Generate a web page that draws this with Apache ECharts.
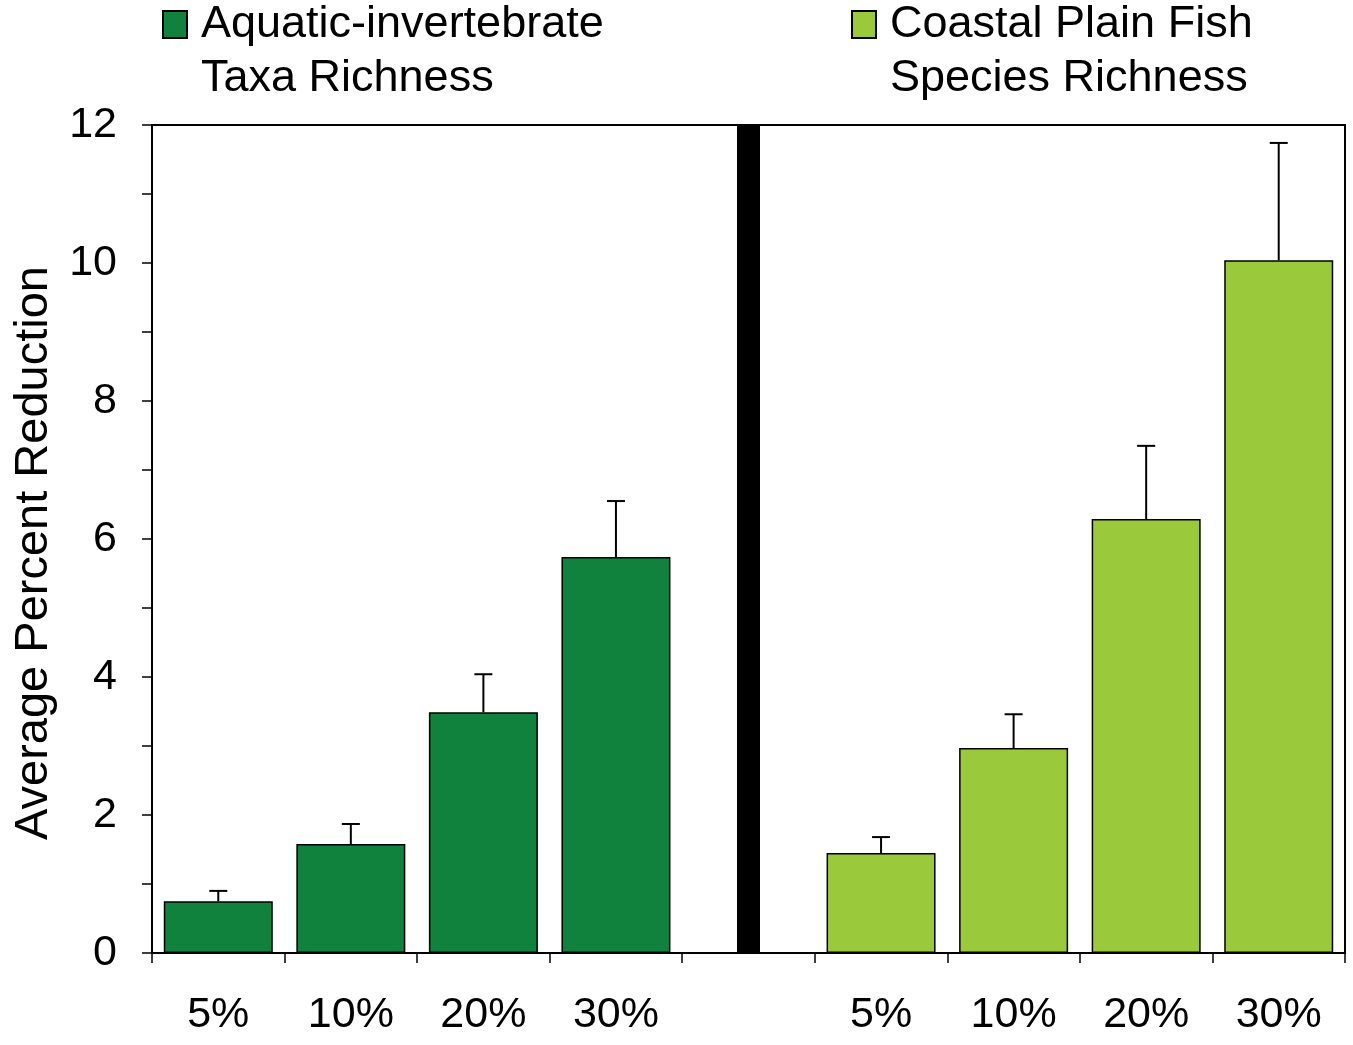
<!DOCTYPE html>
<html lang="en">
<head>
    <meta charset="UTF-8">
    <title>Average Percent Reduction</title>
    <script src="https://cdn.jsdelivr.net/npm/echarts@6/dist/echarts.min.js"></script>
    <style>
        html, body { margin: 0; padding: 0; background: #fff; }
        #chart { width: 1353px; height: 1045px; }
    </style>
</head>
<body>
<div id="chart"></div>
<script>
    // categories: left group, a blank slot for the divider, right group
    const categories = ['5%', '10%', '20%', '30%', '', '5%', '10%', '20%', '30%'];

    // aquatic-invertebrate taxa richness
    const invertMean = [0.75, 1.58, 3.49, 5.74];
    const invertUpper = [0.90, 1.87, 4.04, 6.55];

    // coastal plain fish species richness
    const fishMean = [1.45, 2.97, 6.29, 10.04];
    const fishUpper = [1.68, 3.46, 7.35, 11.74];

    // divider bar between the two panels
    const dividerSlot = 4;
    const dividerValue = 12;

    const invertName = 'Aquatic-invertebrate\nTaxa Richness';
    const fishName = 'Coastal Plain Fish\nSpecies Richness';
    const fishOffset = 5;

    const font = '"Liberation Sans", Arial, sans-serif';

    /*pad a group into the 9 category slots*/
    function pad(values, offset) {
        const out = categories.map(() => '-');
        values.forEach((v, i) => { out[i + offset] = v; });
        return out;
    }

    const errData = invertMean.map((m, i) => [i, m, invertUpper[i]])
        .concat(fishMean.map((m, i) => [i + fishOffset, m, fishUpper[i]]));

    /*upper error bar with a cap*/
    function renderErr(params, api) {
        const x = api.value(0);
        const base = api.coord([x, api.value(1)]);
        const top = api.coord([x, api.value(2)]);
        const st = { stroke: '#000', lineWidth: 2 };
        return {
            type: 'group',
            children: [
                { type: 'line', shape: { x1: top[0], y1: top[1], x2: base[0], y2: base[1] }, style: st },
                { type: 'line', shape: { x1: top[0] - 9, y1: top[1], x2: top[0] + 9, y2: top[1] }, style: st }
            ]
        };
    }

    /*thick black separator*/
    function renderDivider(params, api) {
        const x = api.value(0);
        const top = api.coord([x, api.value(1)]);
        const base = api.coord([x, 0]);
        return {
            type: 'rect',
            shape: { x: top[0] - 11.5, y: top[1], width: 23, height: base[1] - top[1] },
            style: { fill: '#000' }
        };
    }

    // icon path: square near top, padding to the right, height of two text lines
    const legendIcon = 'path://M0,0Z M0,13H24V40H0Z M33,108Z';
    const legendBase = {
        orient: 'vertical',
        top: -3,
        padding: 0,
        itemWidth: 33,
        itemHeight: 108,
        icon: legendIcon,
        textStyle: { fontFamily: font, fontSize: 45, lineHeight: 54, color: '#000' }
    };

    const chart = echarts.init(document.getElementById('chart'));
    chart.setOption({
        backgroundColor: '#fff',
        animation: false,
        legend: [
            Object.assign({}, legendBase, { data: [invertName], left: 162 }),
            Object.assign({}, legendBase, { data: [fishName], left: 851 })
        ],
        grid: {
            show: true,
            borderColor: '#000',
            borderWidth: 2,
            left: 152,
            right: 8,
            top: 125,
            bottom: 92
        },
        xAxis: {
            type: 'category',
            data: categories,
            boundaryGap: true,
            axisLine: { lineStyle: { color: '#000', width: 2 } },
            axisTick: { show: true, interval: 0, length: 10, lineStyle: { color: '#000', width: 1.5 } },
            axisLabel: { interval: 0, margin: 41, fontFamily: font, fontSize: 43, color: '#000' },
            splitLine: { show: false }
        },
        yAxis: {
            type: 'value',
            min: 0,
            max: 12,
            interval: 2,
            name: 'Average Percent Reduction',
            nameLocation: 'middle',
            nameGap: 94,
            nameTextStyle: { fontFamily: font, fontSize: 47, color: '#000', padding: [0, 28, 0, 0] },
            axisLine: { show: true, lineStyle: { color: '#000', width: 2 } },
            axisTick: { show: true, length: 10, lineStyle: { color: '#000', width: 1.5 } },
            minorTick: { show: true, splitNumber: 2, length: 10, lineStyle: { color: '#000', width: 1.5 } },
            axisLabel: { margin: 35, fontFamily: font, fontSize: 43, color: '#000' },
            splitLine: { show: false }
        },
        series: [
            {
                name: invertName,
                type: 'bar',
                data: pad(invertMean, 0),
                barWidth: 109,
                barGap: '-100%',
                itemStyle: { color: '#10823e', borderColor: '#000', borderWidth: 1.5 }
            },
            {
                name: fishName,
                type: 'bar',
                data: pad(fishMean, fishOffset),
                barWidth: 109,
                barGap: '-100%',
                itemStyle: { color: '#9bc93c', borderColor: '#000', borderWidth: 1.5 }
            },
            {
                type: 'custom',
                renderItem: renderErr,
                data: errData,
                z: 5
            },
            {
                type: 'custom',
                renderItem: renderDivider,
                data: [[dividerSlot, dividerValue]],
                z: 5
            }
        ]
    });
</script>
</body>
</html>
